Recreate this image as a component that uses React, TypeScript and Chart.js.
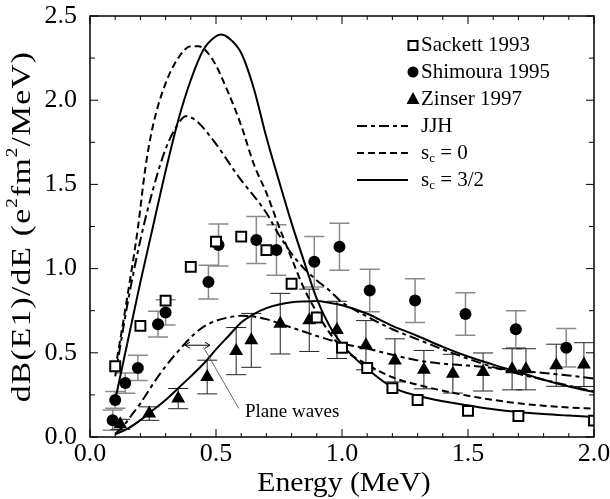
import React, { useEffect, useRef } from "react";
import { Chart, registerables } from "chart.js";

Chart.register(...registerables);

// ---------- data ----------
const sackettX = [0.1, 0.2, 0.3, 0.4, 0.5, 0.6, 0.7, 0.8, 0.9, 1.0, 1.1, 1.2, 1.3, 1.5, 1.7, 2.0];
const sackettY = [0.42, 0.66, 0.81, 1.01, 1.16, 1.19, 1.11, 0.91, 0.71, 0.53, 0.41, 0.29, 0.22, 0.155, 0.125, 0.097];

const shimouraX = [0.09, 0.1, 0.14, 0.19, 0.27, 0.3, 0.47, 0.51, 0.66, 0.74, 0.89, 0.99, 1.11, 1.29, 1.49, 1.69, 1.89];
const shimouraY = [0.1, 0.22, 0.32, 0.41, 0.67, 0.74, 0.92, 1.14, 1.17, 1.11, 1.04, 1.13, 0.87, 0.81, 0.73, 0.64, 0.53];
const shimouraErr = [0.06, 0.05, 0.06, 0.075, 0.076, 0.075, 0.1, 0.125, 0.14, 0.15, 0.15, 0.14, 0.126, 0.13, 0.126, 0.11, 0.114];

const zinserX = [0.12, 0.235, 0.35, 0.465, 0.58, 0.64, 0.755, 0.87, 0.98, 1.095, 1.21, 1.325, 1.44, 1.56, 1.675, 1.73, 1.85, 1.96];
const zinserY = [0.075, 0.139, 0.228, 0.356, 0.51, 0.574, 0.673, 0.693, 0.636, 0.545, 0.455, 0.4, 0.376, 0.386, 0.402, 0.402, 0.426, 0.43];
const zinserErr = [0.03, 0.04, 0.06, 0.1, 0.14, 0.16, 0.18, 0.185, 0.17, 0.146, 0.128, 0.114, 0.115, 0.113, 0.122, 0.122, 0.125, 0.13];

// s_c = 3/2 (full)
const sc32X = [0.1, 0.15, 0.2, 0.25, 0.3, 0.35, 0.4, 0.45, 0.5, 0.52, 0.55, 0.6, 0.65, 0.7, 0.75, 0.8, 0.85, 0.9, 0.95, 1.0, 1.05, 1.1, 1.2, 1.3, 1.4, 1.5, 1.6, 1.7, 1.8, 1.9, 2.0];
const sc32Y = [0.22, 0.57, 0.92, 1.25, 1.58, 1.88, 2.12, 2.3, 2.38, 2.39, 2.37, 2.28, 2.07, 1.78, 1.52, 1.27, 1.04, 0.82, 0.66, 0.55, 0.47, 0.405, 0.295, 0.245, 0.212, 0.188, 0.165, 0.148, 0.136, 0.127, 0.119];

// s_c = 0 (full)
const sc0X = [0.1, 0.15, 0.19, 0.22, 0.25, 0.3, 0.35, 0.4, 0.43, 0.485, 0.55, 0.6, 0.65, 0.7, 0.75, 0.8, 0.85, 0.9, 0.95, 1.0, 1.1, 1.2, 1.3, 1.4, 1.5, 1.6, 1.7, 1.8, 1.9, 2.0];
const sc0Y = [0.4, 0.85, 1.24, 1.6, 1.85, 2.1, 2.25, 2.32, 2.32, 2.245, 2.04, 1.85, 1.62, 1.45, 1.25, 1.06, 0.88, 0.74, 0.62, 0.53, 0.43, 0.355, 0.31, 0.275, 0.245, 0.22, 0.2, 0.186, 0.175, 0.168];

// JJH (full)
const jjhX = [0.1, 0.15, 0.2, 0.25, 0.3, 0.35, 0.38, 0.42, 0.49, 0.59, 0.7, 0.75, 0.82, 0.885, 0.95, 1.0, 1.05, 1.1, 1.2, 1.3, 1.4, 1.5, 1.6, 1.7, 1.8, 1.9, 2.0];
const jjhY = [0.36, 0.8, 1.17, 1.47, 1.71, 1.86, 1.905, 1.88, 1.76, 1.545, 1.33, 1.2, 1.05, 0.95, 0.87, 0.8, 0.755, 0.715, 0.64, 0.58, 0.52, 0.465, 0.415, 0.375, 0.34, 0.305, 0.27];

// plane waves, s_c = 3/2
const pwSolidX = [0.1, 0.15, 0.2, 0.25, 0.3, 0.35, 0.4, 0.46, 0.5, 0.55, 0.6, 0.65, 0.7, 0.75, 0.8, 0.85, 0.9, 0.95, 1.0, 1.1, 1.2, 1.3, 1.4, 1.5, 1.6, 1.7, 1.8, 1.9, 2.0];
const pwSolidY = [0.016, 0.05, 0.1, 0.16, 0.22, 0.29, 0.36, 0.45, 0.52, 0.6, 0.68, 0.73, 0.765, 0.787, 0.8, 0.805, 0.807, 0.797, 0.782, 0.732, 0.66, 0.6, 0.535, 0.478, 0.43, 0.385, 0.34, 0.3, 0.267];

// plane waves, dashed
const pwDashX = [0.1, 0.13, 0.16, 0.2, 0.26, 0.3, 0.33, 0.38, 0.42, 0.46, 0.5, 0.55, 0.6, 0.65, 0.7, 0.75, 0.8, 0.85, 0.9, 0.95, 1.0, 1.1, 1.2, 1.3, 1.4, 1.5, 1.6, 1.7, 1.8, 1.9, 2.0];
const pwDashY = [0.02, 0.06, 0.12, 0.2, 0.337, 0.42, 0.475, 0.56, 0.62, 0.663, 0.69, 0.71, 0.72, 0.715, 0.7, 0.675, 0.65, 0.625, 0.6, 0.577, 0.555, 0.525, 0.488, 0.455, 0.435, 0.424, 0.41, 0.395, 0.38, 0.365, 0.347];

const xTicks = [0, 0.5, 1.0, 1.5, 2.0];
const yTicks = [0, 0.5, 1.0, 1.5, 2.0, 2.5];

const SERIF = '"Liberation Serif", "Times New Roman", serif';
const JJH_DASH = [10, 4, 4, 4];
const SC0_DASH = [7, 4];

function pts(xs: number[], ys: number[]) {
  return xs.map((x, i) => ({ x, y: ys[i] }));
}

export default function App() {
  const ref = useRef<HTMLCanvasElement>(null);

  useEffect(() => {
    const canvas = ref.current!;

    const decor = {
      id: "decor",
      beforeDatasetsDraw(chart: any) {
        const ctx = chart.ctx;
        const sx = chart.scales.x;
        const sy = chart.scales.y;
        const bars = (X: number[], Y: number[], E: number[], color: string, lw: number) => {
          ctx.save();
          ctx.strokeStyle = color;
          ctx.lineWidth = lw;
          X.forEach((x, i) => {
            const px = sx.getPixelForValue(x);
            const p1 = sy.getPixelForValue(Y[i] + E[i]);
            const p2 = sy.getPixelForValue(Y[i] - E[i]);
            ctx.beginPath();
            ctx.moveTo(px, p1);
            ctx.lineTo(px, p2);
            ctx.moveTo(px - 10, p1);
            ctx.lineTo(px + 10, p1);
            ctx.moveTo(px - 10, p2);
            ctx.lineTo(px + 10, p2);
            ctx.stroke();
          });
          ctx.restore();
        };
        bars(shimouraX, shimouraY, shimouraErr, "#8a8a8a", 1.5);
        bars(zinserX, zinserY, zinserErr, "#222", 1);
      },
      afterDatasetsDraw(chart: any) {
        const ctx = chart.ctx;
        const sx = chart.scales.x;
        const sy = chart.scales.y;
        const { left, right, top, bottom } = chart.chartArea;
        ctx.save();
        // frame
        ctx.strokeStyle = "#000";
        ctx.lineWidth = 1.5;
        ctx.strokeRect(left, top, right - left, bottom - top);
        // ticks inward
        ctx.lineWidth = 1;
        ctx.beginPath();
        for (let i = 0; i <= 20; i++) {
          const v = i / 10;
          const px = sx.getPixelForValue(v);
          const len = i % 5 === 0 ? 8 : 4;
          ctx.moveTo(px, bottom);
          ctx.lineTo(px, bottom - len);
          ctx.moveTo(px, top);
          ctx.lineTo(px, top + len);
        }
        for (let i = 0; i <= 10; i++) {
          const v = i * 0.25;
          const py = sy.getPixelForValue(v);
          const len = i % 2 === 0 ? 8 : 5;
          ctx.moveTo(left, py);
          ctx.lineTo(left + len, py);
          ctx.moveTo(right, py);
          ctx.lineTo(right - len, py);
        }
        ctx.stroke();

        // tick labels
        ctx.fillStyle = "#000";
        ctx.font = `26px ${SERIF}`;
        ctx.textBaseline = "middle";
        ctx.textAlign = "center";
        xTicks.forEach((v) => {
          ctx.fillText(v.toFixed(1), sx.getPixelForValue(v), bottom + 17);
        });
        ctx.textAlign = "right";
        yTicks.forEach((v) => {
          ctx.fillText(v.toFixed(1), left - 13, sy.getPixelForValue(v));
        });

        // x title
        ctx.save();
        ctx.translate((left + right) / 2 + 2, 484);
        ctx.scale(1.1, 1);
        ctx.textAlign = "center";
        ctx.font = `27px ${SERIF}`;
        ctx.fillText("Energy (MeV)", 0, 0);
        ctx.restore();

        // legend
        const mx = 413;
        const tx = 421;
        const rows = [45.5, 72, 99, 126, 153, 180];
        ctx.font = `21px ${SERIF}`;
        ctx.textBaseline = "middle";
        ctx.textAlign = "left";
        ctx.lineWidth = 2;
        ctx.strokeStyle = "#000";
        ctx.fillStyle = "#fff";
        ctx.fillRect(mx - 4.5, rows[0] - 4.5, 9, 9);
        ctx.strokeRect(mx - 4.5, rows[0] - 4.5, 9, 9);
        ctx.fillStyle = "#000";
        ctx.fillText("Sackett 1993", tx, rows[0]);
        ctx.beginPath();
        ctx.arc(mx, rows[1], 5.5, 0, Math.PI * 2);
        ctx.fill();
        ctx.fillText("Shimoura 1995", tx, rows[1]);
        ctx.beginPath();
        ctx.moveTo(mx, rows[2] - 7);
        ctx.lineTo(mx + 6.5, rows[2] + 5);
        ctx.lineTo(mx - 6.5, rows[2] + 5);
        ctx.closePath();
        ctx.fill();
        ctx.fillText("Zinser 1997", tx, rows[2]);
        const line = (y: number, dash: number[]) => {
          ctx.save();
          ctx.lineWidth = 2;
          ctx.setLineDash(dash);
          ctx.beginPath();
          ctx.moveTo(357, y);
          ctx.lineTo(408, y);
          ctx.stroke();
          ctx.restore();
        };
        line(rows[3], JJH_DASH);
        ctx.fillText("JJH", tx, rows[3]);
        line(rows[4], SC0_DASH);
        line(rows[5], []);
        const sc = (y: number, rest: string) => {
          ctx.font = `21px ${SERIF}`;
          ctx.fillText("s", tx, y);
          const w = ctx.measureText("s").width;
          ctx.font = `13px ${SERIF}`;
          ctx.fillText("c", tx + w, y + 6);
          const w2 = ctx.measureText("c").width;
          ctx.font = `21px ${SERIF}`;
          ctx.fillText(rest, tx + w + w2, y);
        };
        sc(rows[4], " = 0");
        sc(rows[5], " = 3/2");

        // plane waves annotation
        ctx.strokeStyle = "#000";
        ctx.lineWidth = 1;
        const ax1 = sx.getPixelForValue(0.377);
        const ax2 = sx.getPixelForValue(0.476);
        const ay = sy.getPixelForValue(0.545);
        ctx.beginPath();
        ctx.moveTo(ax1, ay);
        ctx.lineTo(ax2, ay);
        ctx.moveTo(ax1 + 5, ay - 3);
        ctx.lineTo(ax1, ay);
        ctx.lineTo(ax1 + 5, ay + 3);
        ctx.moveTo(ax2 - 5, ay - 3);
        ctx.lineTo(ax2, ay);
        ctx.lineTo(ax2 - 5, ay + 3);
        ctx.stroke();
        ctx.lineWidth = 0.8;
        ctx.strokeStyle = "#444";
        ctx.beginPath();
        ctx.moveTo(sx.getPixelForValue(0.45), sy.getPixelForValue(0.534));
        ctx.lineTo(sx.getPixelForValue(0.59), sy.getPixelForValue(0.17));
        ctx.stroke();
        ctx.fillStyle = "#000";
        ctx.font = `19px ${SERIF}`;
        ctx.fillText("Plane waves", sx.getPixelForValue(0.615), sy.getPixelForValue(0.147));

        // y title
        ctx.save();
        ctx.translate(23, (top + bottom) / 2);
        ctx.rotate(-Math.PI / 2);
        ctx.scale(1.2, 1);
        const big = `28px ${SERIF}`;
        const small = `16px ${SERIF}`;
        (ctx as any).letterSpacing = "1px";
        const parts: [string, boolean][] = [
          ["dB(E1)/dE (e", false],
          ["2", true],
          ["fm", false],
          ["2", true],
          ["/MeV)", false],
        ];
        let total = 0;
        parts.forEach(([t, s]) => {
          ctx.font = s ? small : big;
          total += ctx.measureText(t).width;
        });
        let cx = -total / 2;
        ctx.textAlign = "left";
        ctx.textBaseline = "middle";
        parts.forEach(([t, s]) => {
          ctx.font = s ? small : big;
          ctx.fillText(t, cx, s ? -10 : 0);
          cx += ctx.measureText(t).width;
        });
        (ctx as any).letterSpacing = "0px";
        ctx.restore();

        ctx.restore();
      },
    };

    const curve = (xs: number[], ys: number[], dash: number[]) => ({
      type: "line",
      data: pts(xs, ys),
      borderColor: "#000",
      borderWidth: 2,
      borderDash: dash,
      pointRadius: 0,
      cubicInterpolationMode: "monotone",
      fill: false,
    });

    const chart = new Chart(canvas, {
      type: "line",
      data: {
        datasets: [
          {
            label: "Sackett 1993",
            data: pts(sackettX, sackettY),
            showLine: false,
            pointStyle: "rect",
            pointRadius: 7,
            pointBorderWidth: 2,
            pointBackgroundColor: "#fff",
            pointBorderColor: "#000",
          },
          {
            label: "Shimoura 1995",
            data: pts(shimouraX, shimouraY),
            showLine: false,
            pointStyle: "circle",
            pointRadius: 6,
            pointBorderWidth: 0,
            pointBackgroundColor: "#000",
            pointBorderColor: "#000",
          },
          {
            label: "Zinser 1997",
            data: pts(zinserX, zinserY),
            showLine: false,
            pointStyle: "triangle",
            pointRadius: 8,
            pointBorderWidth: 0,
            pointBackgroundColor: "#000",
            pointBorderColor: "#000",
          },
          { label: "JJH", ...curve(jjhX, jjhY, JJH_DASH) },
          { label: "s_c = 0", ...curve(sc0X, sc0Y, SC0_DASH) },
          { label: "s_c = 3/2", ...curve(sc32X, sc32Y, []) },
          { label: "pw dashed", ...curve(pwDashX, pwDashY, JJH_DASH) },
          { label: "pw solid", ...curve(pwSolidX, pwSolidY, []) },
        ] as any,
      },
      options: {
        responsive: false,
        animation: false,
        events: [],
        layout: { padding: { top: 16, right: 16, left: 0, bottom: 0 } },
        plugins: { legend: { display: false }, tooltip: { enabled: false } },
        scales: {
          x: {
            type: "linear",
            min: 0,
            max: 2,
            grid: { display: false },
            border: { display: false },
            ticks: { display: false },
            title: { display: false },
            afterFit: (s: any) => {
              s.height = 62;
            },
          },
          y: {
            type: "linear",
            min: 0,
            max: 2.5,
            grid: { display: false },
            border: { display: false },
            ticks: { display: false },
            title: { display: false },
            afterFit: (s: any) => {
              s.width = 90;
            },
          },
        },
      } as any,
      plugins: [decor],
    });
    return () => chart.destroy();
  }, []);

  return (
    <canvas
      ref={ref}
      width={610}
      height={499}
      style={{ position: "absolute", left: 0, top: 0, width: 610, height: 499 }}
    />
  );
}
